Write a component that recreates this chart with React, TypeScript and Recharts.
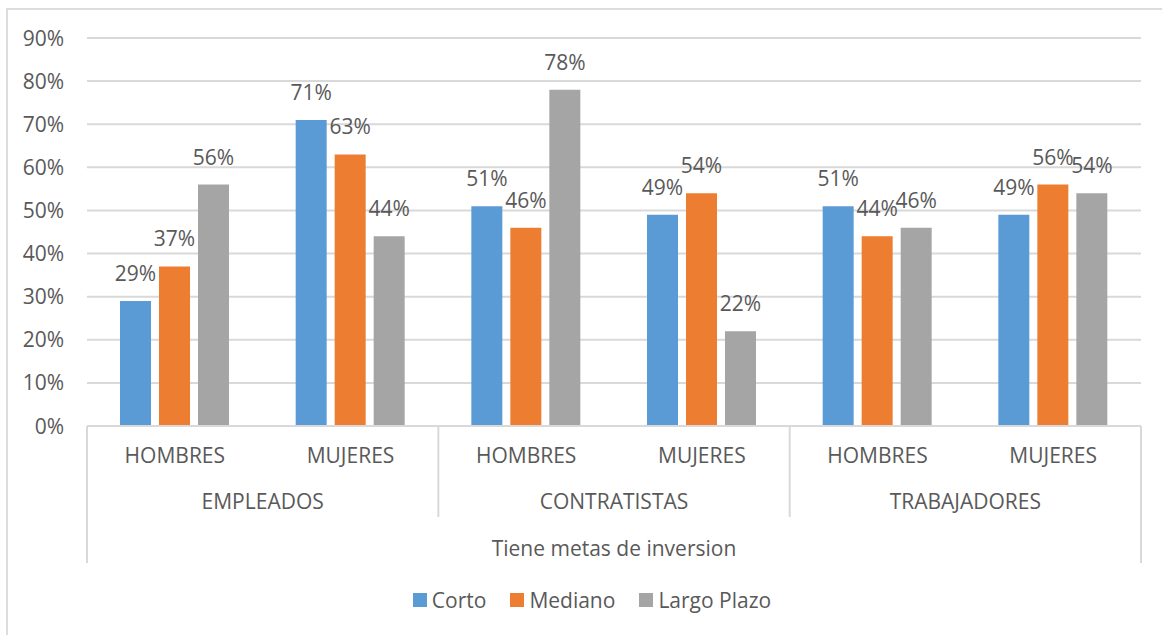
import React from "react";
import { BarChart, Bar, XAxis, YAxis, CartesianGrid, Legend, LabelList } from "recharts";

const subCategories = ["HOMBRES", "MUJERES", "HOMBRES", "MUJERES", "HOMBRES", "MUJERES"];
const groups = ["EMPLEADOS", "EMPLEADOS", "CONTRATISTAS", "CONTRATISTAS", "TRABAJADORES", "TRABAJADORES"];
const seriesNames = ["Corto", "Mediano", "Largo Plazo"];
const corto = [29, 71, 51, 49, 51, 49];
const mediano = [37, 63, 46, 54, 44, 56];
const largoPlazo = [56, 44, 78, 22, 46, 54];
const yTicks = [0, 10, 20, 30, 40, 50, 60, 70, 80, 90];
const axisTitle = "Tiene metas de inversion";

const data = subCategories.map((s, i) => ({
  sub: s + "_" + i,
  label: s,
  group: groups[i],
  Corto: corto[i],
  Mediano: mediano[i],
  "Largo Plazo": largoPlazo[i],
}));

const W = 1162;
const H = 635;
const M_LEFT = 0;
const Y_W = 87;
const M_RIGHT = 21;
const PLOT_W = W - M_LEFT - Y_W - M_RIGHT;
const HALF = PLOT_W / data.length / 2;
const FONT = "'Open Sans', sans-serif";
const FS = 21;
const TXT = "#595959";
const GRID = "#d9d9d9";

const SubTick = (props: any) => {
  const { x, y, index } = props;
  const d = data[index];
  const items: any[] = [];
  items.push(
    <text key="s" x={x} y={y + 37} textAnchor="middle" fill={TXT} fontSize={FS} fontFamily={FONT}>
      {d.label}
    </text>
  );
  if (index === 0) {
    items.push(<line key="l0" x1={x - HALF} x2={x - HALF} y1={y} y2={y + 137} stroke={GRID} strokeWidth={2} />);
    items.push(
      <text key="t" x={x - HALF + PLOT_W / 2} y={y + 130} textAnchor="middle" fill={TXT} fontSize={FS} fontFamily={FONT}>
        {axisTitle}
      </text>
    );
  }
  if (index % 2 === 1) {
    const last = index === data.length - 1;
    items.push(
      <line key="lr" x1={x + HALF} x2={x + HALF} y1={y} y2={y + (last ? 137 : 91)} stroke={GRID} strokeWidth={2} />
    );
    items.push(
      <text key="g" x={x - HALF} y={y + 83} textAnchor="middle" fill={TXT} fontSize={FS} fontFamily={FONT}>
        {d.group}
      </text>
    );
  }
  return <g>{items}</g>;
};

const YTick = (props: any) => {
  const { y, payload } = props;
  return (
    <text x={64} y={y} dy="0.36em" textAnchor="end" fill={TXT} fontSize={FS} fontFamily={FONT}>
      {payload.value + "%"}
    </text>
  );
};

const LegendContent = (props: any) => {
  const payload = [...(props.payload || [])].sort(
    (a: any, b: any) => seriesNames.indexOf(a.value) - seriesNames.indexOf(b.value)
  );
  return (
    <div style={{ display: "flex", justifyContent: "center", alignItems: "center", fontFamily: FONT, fontSize: FS, color: TXT, paddingLeft: 67, marginTop: -3 }}>
      {payload.map((p: any) => (
        <div key={p.value} style={{ display: "flex", alignItems: "center", marginRight: 24 }}>
          <div style={{ width: 14, height: 14, background: p.color, marginRight: 5 }} />
          <span>{p.value}</span>
        </div>
      ))}
    </div>
  );
};

const fmt = (v: any) => v + "%";

export default function App() {
  return (
    <div style={{ position: "absolute", left: 0, top: 0, width: W, height: H, background: "#fff", fontFamily: FONT }}>
      <div style={{ position: "absolute", left: 6, top: 8, width: W - 8, height: H - 10, borderLeft: "2px solid #dcdcdc", borderTop: "2px solid #dcdcdc" }} />
      <div style={{ position: "absolute", left: 0, top: 0 }}>
        <BarChart
          width={W}
          height={H}
          data={data}
          margin={{ top: 38, right: M_RIGHT, left: M_LEFT, bottom: 0 }}
          barCategoryGap={33}
          barGap={8}
        >
          <CartesianGrid vertical={false} stroke={GRID} strokeWidth={2} />
          <XAxis
            dataKey="sub"
            height={163}
            interval={0}
            tickLine={false}
            tickSize={0}
            tickMargin={0}
            axisLine={{ stroke: GRID, strokeWidth: 2 }}
            tick={<SubTick />}
          />
          <YAxis
            width={Y_W}
            domain={[0, 90]}
            ticks={yTicks}
            axisLine={false}
            tickLine={false}
            tick={<YTick />}
          />
          <Legend verticalAlign="bottom" height={46} itemSorter={null as any} content={<LegendContent />} />
          <Bar dataKey="Corto" fill="#5B9BD5" isAnimationActive={false}>
            <LabelList dataKey="Corto" position="top" offset={20} formatter={fmt} fill={TXT} fontSize={FS} fontFamily={FONT} />
          </Bar>
          <Bar dataKey="Mediano" fill="#ED7D31" isAnimationActive={false}>
            <LabelList dataKey="Mediano" position="top" offset={20} formatter={fmt} fill={TXT} fontSize={FS} fontFamily={FONT} />
          </Bar>
          <Bar dataKey="Largo Plazo" fill="#A5A5A5" isAnimationActive={false}>
            <LabelList dataKey="Largo Plazo" position="top" offset={20} formatter={fmt} fill={TXT} fontSize={FS} fontFamily={FONT} />
          </Bar>
        </BarChart>
      </div>
    </div>
  );
}
